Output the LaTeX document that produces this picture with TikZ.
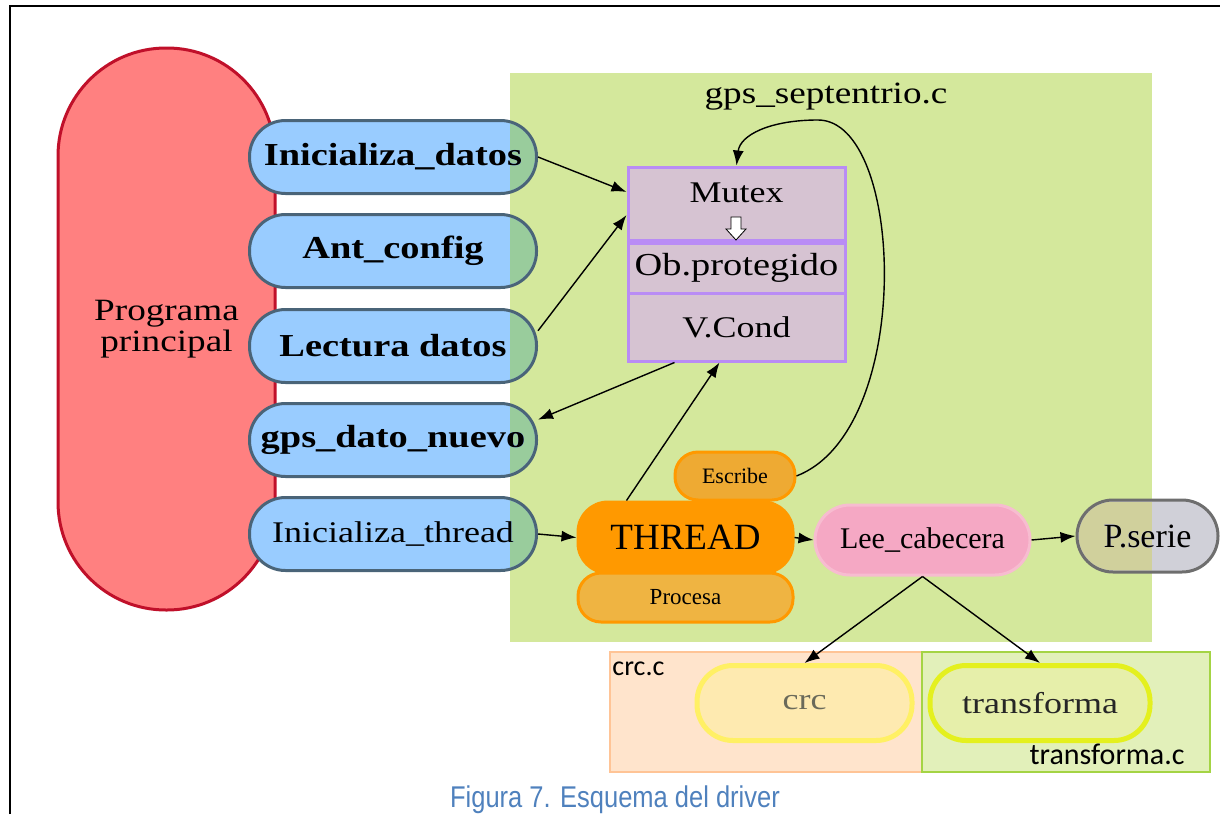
\documentclass[tikz,border=0pt]{standalone}
\usepackage{fontspec}
\setmainfont[FakeStretch=1.2]{Liberation Serif}
\newfontfamily\plainserif{Liberation Serif}
\newfontfamily\calibrifont{Carlito}
\newfontfamily\captionfont[FakeStretch=0.85]{Liberation Sans}
\usetikzlibrary{arrows.meta,positioning}
\usepackage{xcolor}
\definecolor{progfill}{HTML}{FF8080}
\definecolor{progline}{HTML}{C0102A}
\definecolor{bluefill}{HTML}{99CCFF}
\definecolor{blueline}{HTML}{4A6478}
\definecolor{zonegreen}{HTML}{D4E89C}
\definecolor{boxfill}{HTML}{D6C3D2}
\definecolor{boxline}{HTML}{B98CF5}
\definecolor{threadorange}{HTML}{FF9900}
\definecolor{escribefill}{HTML}{EEAA33}
\definecolor{procesafill}{HTML}{EFB442}
\definecolor{leefill}{HTML}{F5A8C4}
\definecolor{leeline}{HTML}{F7BCD0}
\definecolor{seriefill}{HTML}{D0D0D8}
\definecolor{serieline}{HTML}{6E6E6E}
\definecolor{crcbg}{HTML}{FFE4CC}
\definecolor{crcbgline}{HTML}{FFC496}
\definecolor{crcfill}{HTML}{FEEAB0}
\definecolor{crcline}{HTML}{FFF064}
\definecolor{crctext}{HTML}{6A6A5A}
\definecolor{trfbg}{HTML}{E2F0BA}
\definecolor{trfbgline}{HTML}{A4D444}
\definecolor{trffill}{HTML}{E6EFAA}
\definecolor{trfline}{HTML}{E4F01E}
\definecolor{capblue}{HTML}{4F81BD}
\newcommand\fsz[1]{\fontsize{#1}{#1}\selectfont}
\tikzset{
    pill/.style={
        draw=#1,line width=3pt,inner sep=0pt,align=center
    },
    pill/.default=blueline,
    bluepill/.style={
        pill,fill=bluefill,minimum width=287pt,minimum height=73pt,
        rounded corners=36pt,font=\bfseries\fsz{32}
    },
    secbox/.style={
        draw=boxline,line width=3pt,fill=boxfill,
        minimum width=217pt,inner sep=0pt,font=\fsz{30}
    },
    arrow/.style={
        -{Latex[length=15pt,width=11pt]},line width=1.4pt,draw=black
    }
}

\begin{document}
\begin{tikzpicture}[x=1pt,y=-1pt]
\useasboundingbox (0,0) rectangle (1220,814);
\draw[line width=2pt] (10,814) -- (10,6) -- (1220,6);

% programa principal
\node[draw=progline,line width=3pt,fill=progfill,rounded corners=108pt,
minimum width=217pt,minimum height=562pt,align=center,font=\fsz{31}]
(prog) at (166.5,329) {Programa\\principal};

% funciones del driver
\node[bluepill] (idatos) at (393,157) {Inicializa\_datos};
\node[bluepill] (antcfg) at (393,251) {Ant\_config};
\node[bluepill] (lectura) at (393,346) {Lectura datos};
\node[bluepill] (gpsnuevo) at (393,440) {gps\_dato\_nuevo};
\node[bluepill,font=\fsz{30}] (ithread) at (393,534) {Inicializa\_thread};

\node[pill=serieline,fill=seriefill,minimum width=141pt,minimum height=72pt,
rounded corners=36pt,font=\plainserif\fsz{34}] (pserie) at (1147.5,536) {P.serie};

% gps_septentrio.c
\begin{scope}[blend mode=darken]
\node[fill=zonegreen,minimum width=642pt,minimum height=569pt,inner sep=0pt]
(zone) at (831,357.5) {};
\end{scope}
\node[font=\fsz{31}] (zonelbl) at (826,97) {gps\_septentrio.c};

% objeto protegido
\node[secbox,minimum height=73pt,text depth=22pt] (mutex) at (736.5,203.5) {Mutex};
\node[secbox,minimum height=68pt,below=50pt of mutex.south,anchor=north] (vcond) {V.Cond};
\node[secbox,minimum height=50pt,font=\fsz{32},below=0pt of mutex.south,anchor=north] (obprot) {Ob.protegido};
\draw[fill=white,line width=0.8pt] (731,217) -- (741,217) -- (741,229) -- (746,229)
-- (736,240) -- (726,229) -- (731,229) -- cycle;

% thread
\node[pill=threadorange,fill=threadorange,minimum width=215pt,minimum height=71pt,
rounded corners=30pt,font=\plainserif\fsz{37}] (thread) at (685.5,537.5) {THREAD};
\node[pill=threadorange,fill=escribefill,minimum width=120pt,minimum height=48pt,
rounded corners=23pt,font=\plainserif\fsz{22}] (escribe) at (735,476) {Escribe};
\node[pill=threadorange,fill=procesafill,minimum width=215pt,minimum height=49pt,
rounded corners=23pt,font=\plainserif\fsz{23}] (procesa) at (685.5,597.5) {Procesa};

\node[pill=leeline,fill=leefill,minimum width=215pt,minimum height=70pt,
rounded corners=35pt,font=\plainserif\fsz{30}] (lee) at (922.5,540) {Lee\_cabecera};

% ficheros auxiliares
\node[draw=crcbgline,line width=1.5pt,fill=crcbg,minimum width=312pt,
minimum height=120pt] (crcfile) at (766,712) {};
\node[draw=trfbgline,line width=1.5pt,fill=trfbg,minimum width=288pt,
minimum height=120pt] (trffile) at (1066,712) {};
\node[anchor=north west,inner sep=0pt,font=\calibrifont\fsz{28}] (crclbl)
at (crcfile.north west) [xshift=3pt,yshift=-10pt] {crc.c};
\node[anchor=south east,inner sep=0pt,font=\calibrifont\fsz{30}] (trflbl)
at (trffile.south east) [xshift=-26pt,yshift=8pt] {transforma.c};
\node[pill=crcline,line width=5pt,fill=crcfill,minimum width=215pt,minimum height=75pt,
rounded corners=36pt,text=crctext,font=\fsz{30}] (crc) at (804.5,703) {crc};
\node[pill=trfline,line width=5pt,fill=trffill,minimum width=220pt,minimum height=75pt,
rounded corners=36pt,text=black!85,font=\fsz{30}] (transf) at (1040,703) {transforma};

% conexiones
\draw[arrow] (idatos.east) -- (mutex.174);
\draw[arrow] (lectura.6) -- (mutex.186);
\draw[arrow] ([xshift=-62pt]vcond.south) -- (gpsnuevo.8);
\draw[arrow] ([xshift=-59pt]thread.north) -- ([xshift=-17pt]vcond.south);
\draw[arrow] (escribe.east) .. controls (915,430) and (905,120) .. (818,120)
.. controls (770,120) and (740,135) .. (mutex.north);
\draw[arrow] (ithread.east) -- (thread.west);
\draw[arrow] (thread.east) -- (lee.west);
\draw[arrow] (lee.east) -- (pserie.west);
\draw[arrow] (lee.south) -- (crc.north);
\draw[arrow] (lee.south) -- (transf.north);

\node[font=\captionfont\fsz{30},text=capblue] (caption) at (615,800)
{Figura 7. Esquema del driver};
\end{tikzpicture}
\end{document}
